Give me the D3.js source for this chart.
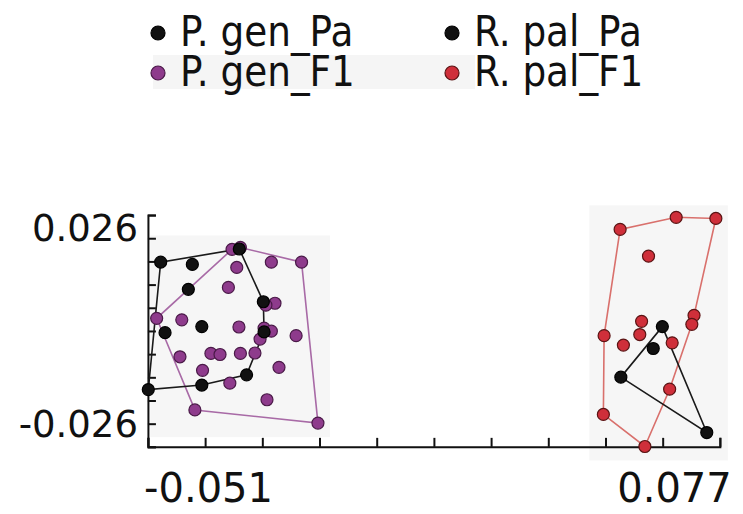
<!DOCTYPE html>
<html>
<head>
  <meta charset="utf-8">
  <style>
    body { margin: 0; background: #fff; }
    svg { display: block; font-family: "DejaVu Sans", sans-serif; }
  </style>
</head>
<body>
  <div id="chart"></div>
  <script src="https://d3js.org/d3.v7.min.js"></script>
  <script>
    // scores, [axis 1, axis 2]
    var pgenPa = [[-0.0640, 0.0172], [-0.0553, 0.0166], [-0.0564, 0.0100], [-0.0628, -0.0015],
      [-0.0527, 0.0001], [-0.0674, -0.0166], [-0.0527, -0.0154], [-0.0404, -0.0127],
      [-0.0358, 0.0067], [-0.0424, 0.0207], [-0.0356, -0.0013]];
    var pgenF1 = [[-0.0444, 0.0206], [-0.0421, 0.0211], [-0.0336, 0.0172], [-0.0253, 0.0172],
      [-0.0431, 0.0158], [-0.0454, 0.0105], [-0.0326, 0.0063], [-0.0351, 0.0058],
      [-0.0651, 0.0023], [-0.0582, 0.0019], [-0.0425, 0.0000], [-0.0356, -0.0003],
      [-0.0336, -0.0011], [-0.0268, -0.0023], [-0.0367, -0.0032], [-0.0587, -0.0079],
      [-0.0502, -0.0070], [-0.0477, -0.0073], [-0.0421, -0.0070], [-0.0381, -0.0069],
      [-0.0315, -0.0107], [-0.0525, -0.0115], [-0.0450, -0.0149], [-0.0348, -0.0193],
      [-0.0546, -0.0220], [-0.0208, -0.0255]];
    var rpalPa = [[0.0738, 0.0001], [0.0713, -0.0057], [0.0624, -0.0133], [0.0860, -0.0280]];
    var rpalF1 = [[0.0622, 0.0259], [0.0776, 0.0291], [0.0885, 0.0288], [0.0700, 0.0188],
      [0.0681, 0.0015], [0.0676, -0.0020], [0.0631, -0.0048], [0.0578, -0.0023],
      [0.0825, 0.0031], [0.0819, 0.0007], [0.0765, -0.0042], [0.0758, -0.0165],
      [0.0576, -0.0232], [0.0690, -0.0317]];

    var xLabels = [-0.051, 0.077];
    var yLabels = [0.026, -0.026];
    var xExtent = [-0.0675, 0.0896];
    var yExtent = [-0.0318, 0.0297];

    var groups = [
      {name: 'P. gen_F1', pts: pgenF1, fill: '#8e3b8c', stroke: '#4a1a48', hull: '#a86aa6'},
      {name: 'P. gen_Pa', pts: pgenPa, fill: '#111111', stroke: '#000000', hull: '#1a1a1a'},
      {name: 'R. pal_F1', pts: rpalF1, fill: '#cf2f3a', stroke: '#5a1414', hull: '#d9706c'},
      {name: 'R. pal_Pa', pts: rpalPa, fill: '#111111', stroke: '#000000', hull: '#1a1a1a'}
    ];
    var legendOrder = ['P. gen_Pa', 'R. pal_Pa', 'P. gen_F1', 'R. pal_F1'];

    var width = 743, height = 514;
    var svg = d3.select('#chart').append('svg')
        .attr('width', width)
        .attr('height', height);

    var x = d3.scaleLinear().domain(xLabels).range([208, 674]);
    var y = d3.scaleLinear().domain(yLabels).range([229, 425]);
    var fmt = d => d3.format('.3f')(d).replace('\u2212', '-');

    // faint grey panels behind each cluster, like the scanned figure
    [[pgenPa.concat(pgenF1), 2], [rpalPa.concat(rpalF1), -14]].forEach(function (c) {
      var pts = c[0];
      var ex = d3.extent(pts, d => d[0]), ey = d3.extent(pts, d => d[1]);
      svg.append('rect')
          .attr('x', x(ex[0]) + c[1]).attr('y', y(ey[1]) - 12)
          .attr('width', x(ex[1]) - x(ex[0]) + 12 - c[1])
          .attr('height', y(ey[0]) - y(ey[1]) + 26)
          .attr('fill', '#f6f6f6');
    });

    // axes: minor ticks pointing inwards, labels only at two values
    var xMinor = d3.range(11).map(i => xExtent[0] + i * (xExtent[1] - xExtent[0]) / 10);
    var yMinor = d3.range(11).map(i => yExtent[0] + i * (yExtent[1] - yExtent[0]) / 10);
    var xAx = d3.scaleLinear().domain(xExtent).range([x(xExtent[0]), x(xExtent[1])]);
    var yAx = d3.scaleLinear().domain(yExtent).range([y(yExtent[0]), y(yExtent[1])]);

    var gx = svg.append('g')
        .attr('transform', 'translate(0,' + y(yExtent[0]) + ')')
        .call(d3.axisTop(xAx).tickValues(xMinor).tickFormat('').tickSize(9).tickSizeOuter(9));
    var gy = svg.append('g')
        .attr('transform', 'translate(' + x(xExtent[0]) + ',0)')
        .call(d3.axisRight(yAx).tickValues(yMinor).tickFormat('').tickSize(8).tickSizeOuter(8));
    [gx, gy].forEach(function (g) {
      g.selectAll('path, line').attr('stroke', '#111').attr('stroke-width', 2);
    });

    svg.append('g')
        .attr('transform', 'translate(0,' + y(yExtent[0]) + ')')
        .call(d3.axisBottom(x).tickValues(xLabels).tickFormat(fmt).tickSize(0).tickPadding(27))
        .call(g => g.select('.domain').remove())
        .selectAll('text').attr('font-size', 40).attr('font-family', 'DejaVu Sans').attr('fill', '#111');
    svg.append('g')
        .attr('transform', 'translate(' + x(xExtent[0]) + ',0)')
        .call(d3.axisLeft(y).tickValues(yLabels).tickFormat(fmt).tickSize(0).tickPadding(10))
        .call(g => g.select('.domain').remove())
        .selectAll('text').attr('font-size', 37).attr('font-family', 'DejaVu Sans').attr('fill', '#111');

    // hulls, then points
    groups.forEach(function (g) {
      var hull = d3.polygonHull(g.pts.map(d => [x(d[0]), y(d[1])]));
      svg.append('path')
          .attr('d', 'M' + hull.join('L') + 'Z')
          .attr('fill', 'none')
          .attr('stroke', g.hull)
          .attr('stroke-width', 1.6);
    });
    groups.forEach(function (g) {
      svg.append('g').selectAll('circle')
          .data(g.pts)
          .join('circle')
          .attr('cx', d => x(d[0]))
          .attr('cy', d => y(d[1]))
          .attr('r', 6)
          .attr('fill', g.fill)
          .attr('stroke', g.stroke)
          .attr('stroke-width', 1.2);
    });

    // legend, two columns; the source font is a touch narrower than DejaVu
    svg.append('rect').attr('x', 153).attr('y', 55).attr('width', 322).attr('height', 34).attr('fill', '#f5f5f5');
    var leg = svg.append('g').selectAll('g')
        .data(legendOrder.map(n => groups.find(g => g.name === n)))
        .join('g')
        .attr('transform', (d, i) => 'translate(' + (158 + (i % 2) * 294) + ',' + (33 + Math.floor(i / 2) * 40) + ')');
    leg.append('circle').attr('r', 7).attr('fill', d => d.fill).attr('stroke', d => d.stroke).attr('stroke-width', 1.2);
    leg.append('text')
        .attr('transform', 'translate(22,13) scale(0.89,1)')
        .attr('font-size', 42)
        .attr('fill', '#111')
        .text(d => d.name);
  </script>
</body>
</html>
